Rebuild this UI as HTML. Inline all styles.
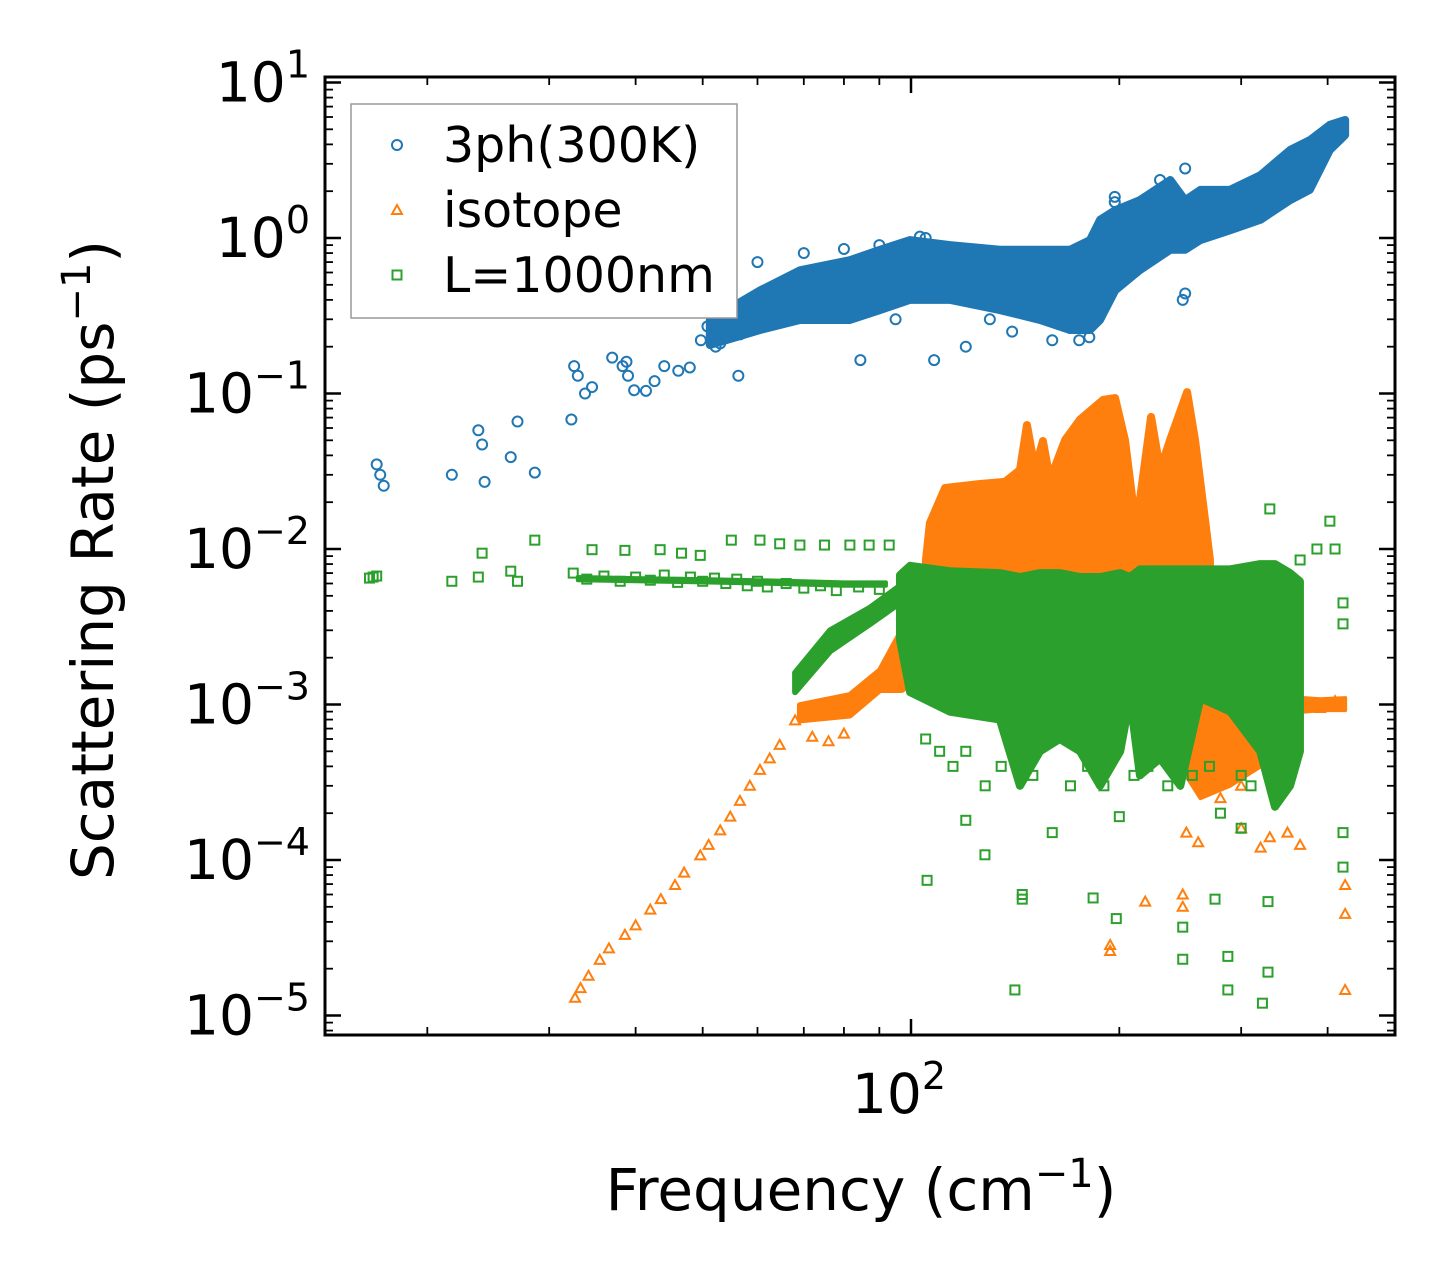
<!DOCTYPE html>
<html><head><meta charset="utf-8"><style>
html,body{margin:0;padding:0;background:#fff;}
svg{display:block;font-family:"DejaVu Sans","Liberation Sans",sans-serif;}
</style></head><body>
<svg id="chart" width="1455" height="1285" viewBox="0 0 1455 1285" xmlns="http://www.w3.org/2000/svg">
<rect width="1455" height="1285" fill="#fff"/>
<g id="marks"></g>
<g id="axes"></g>
<text transform="translate(113,560) rotate(-90)" text-anchor="middle" font-size="58">Scattering Rate (ps<tspan dy="-23" font-size="40">−1</tspan><tspan dy="23">)</tspan></text>
<text x="861" y="1210" text-anchor="middle" font-size="58">Frequency (cm<tspan dy="-23" font-size="40">−1</tspan><tspan dy="23">)</tspan></text>
<g>
<rect x="351" y="104" width="386" height="214" fill="#fff" stroke="#999" stroke-width="1.5"/>
<circle cx="397" cy="145" r="5" fill="none" stroke="#1f77b4" stroke-width="2"/>
<text x="443" y="162" font-size="49">3ph(300K)</text>
<path d="M397,205 L402,214 L392,214 Z" fill="none" stroke="#ff7f0e" stroke-width="2"/>
<text x="443" y="227" font-size="49">isotope</text>
<rect x="392.5" y="270.5" width="9" height="9" fill="none" stroke="#2ca02c" stroke-width="2"/>
<text x="443" y="292" font-size="49">L=1000nm</text>
</g>
</svg>
<script>
// ---- data ----
const phFreq=[16.9,17.1,17.3,21.7,23.7,24.0,24.2,26.4,27.0,28.6,32.3,32.6,33.0,33.8,34.6,37.0,38.3,38.8,39.0,39.8,41.4,42.6,44.0,46.1,47.9,49.7,50.8,52.2,53.0,56.3,56.6,84.5,108,105,103,181,247,249,197,197,249,229,215,120,140,160,75,65,95,130,175,60,70,80,90];
const phRate=[0.035,0.030,0.0255,0.030,0.058,0.047,0.027,0.039,0.066,0.031,0.068,0.15,0.13,0.10,0.11,0.17,0.15,0.16,0.13,0.105,0.104,0.12,0.15,0.14,0.147,0.22,0.27,0.20,0.21,0.13,0.24,0.164,0.164,1.0,1.02,0.23,0.40,0.44,1.84,1.70,2.8,2.36,0.70,0.20,0.25,0.22,0.55,0.45,0.30,0.30,0.22,0.7,0.8,0.85,0.9];
const phBandFreq=[51.2,60.5,69.1,81.6,90.2,99.7,113.8,134.4,153.6,169.8,181.4,187.6,197.3,214,237,249,262,289,320,353,377,403,424];
const phBandHi=[0.297,0.46,0.62,0.72,0.84,0.97,0.90,0.84,0.84,0.84,0.97,1.31,1.51,1.75,2.36,1.75,2.04,2.04,2.54,3.68,4.26,5.34,5.74];
const phBandLo=[0.205,0.256,0.297,0.297,0.344,0.40,0.40,0.344,0.297,0.256,0.256,0.297,0.46,0.62,0.84,0.84,0.97,1.12,1.31,1.75,2.04,3.68,4.59];

const isoFreq=[32.7,33.3,34.2,35.5,36.6,38.6,40.0,42.0,43.5,45.6,47.0,49.6,51.0,53.0,54.8,56.6,58.5,60.5,62.5,64.6,68.0,72,76,80,194,194,218,247,247,424,424,424,365,300,330,375,390,410,250,260,280,300,320,350];
const isoRate=[1.3e-5,1.5e-5,1.8e-5,2.28e-5,2.7e-5,3.3e-5,3.8e-5,4.8e-5,5.6e-5,6.9e-5,8.3e-5,1.07e-4,1.25e-4,1.55e-4,1.9e-4,2.4e-4,3.0e-4,3.8e-4,4.5e-4,5.5e-4,7.9e-4,6.2e-4,5.8e-4,6.5e-4,2.84e-5,2.6e-5,5.4e-5,5.0e-5,6.0e-5,6.9e-5,4.5e-5,1.46e-5,1.25e-4,1.6e-4,1.4e-4,1.0e-3,9.5e-4,1.05e-3,1.5e-4,1.3e-4,2.5e-4,3.0e-4,1.2e-4,1.5e-4];
const isoDiagFreq=[69.1,81.6,90.2,97,103];
const isoDiagHi=[0.00099,0.00115,0.00166,0.003,0.0047];
const isoDiagLo=[0.00079,0.00085,0.00124,0.00124,0.0015];
const isoMainFreq=[105.1,106.5,112,125.8,136.7,143.7,147.1,151.1,155.1,158.8,167,175.5,189.5,197.2,203.8,210.7,214.2,222.3,229.1,236.8,250.6,257.3,266,270.4];
const isoMainHi=[0.0085,0.0147,0.0247,0.0262,0.027,0.0322,0.0627,0.0322,0.0495,0.0278,0.0502,0.068,0.091,0.0935,0.0502,0.0154,0.0207,0.0707,0.0322,0.0502,0.102,0.0502,0.0154,0.0085];
const isoMainLo=[0.0055,0.0055,0.0055,0.0055,0.0055,0.0055,0.0055,0.0055,0.0055,0.0055,0.0055,0.0055,0.0055,0.0055,0.0055,0.0055,0.0055,0.0055,0.0055,0.0055,0.0055,0.0055,0.0055,0.0055];
const isoLowFreq=[245,262,289,320,353];
const isoLowHi=[0.0012,0.0011,0.0012,0.0012,0.0011];
const isoLowLo=[0.0004,0.00025,0.0003,0.0004,0.0005];
const isoTailFreq=[370,390,424];
const isoTailHi=[0.00110,0.00108,0.00110];
const isoTailLo=[0.00090,0.00092,0.00092];

const bdFreq=[16.5,16.7,16.9,21.7,23.7,24.0,26.4,27.0,28.6,34.6,38.6,43.4,46.6,49.6,55.0,60.5,64.6,69.1,75.0,81.6,87.0,93.0,141.3,105.5,127.9,144.8,144.8,183.3,198,247,247,275,287,287,322,328,328,421,421,421,421,403,330,365,386,410,120,160,200,300,280,
32.5,34,36,38,40,42,44,46,48,50,52,54,56,58,60,62,66,70,74,78,84,90,
105,110,115,120,128,135,150,170,180,190,210,220,235,255,270,300,310,340,345,360];
const bdRate=[0.0065,0.0066,0.0067,0.0062,0.0066,0.0094,0.0072,0.0062,0.0114,0.0099,0.0098,0.0099,0.0094,0.0091,0.0114,0.0114,0.0108,0.0106,0.0106,0.0106,0.0106,0.0106,1.46e-5,7.4e-5,1.08e-4,6.0e-5,5.6e-5,5.7e-5,4.2e-5,3.7e-5,2.3e-5,5.6e-5,2.4e-5,1.46e-5,1.2e-5,5.4e-5,1.9e-5,1.5e-4,9.0e-5,0.0045,0.0033,0.0151,0.0181,0.0085,0.010,0.010,1.8e-4,1.5e-4,1.9e-4,1.6e-4,2.0e-4,
0.0070,0.0064,0.0067,0.0062,0.0066,0.0063,0.0068,0.0061,0.0066,0.0062,0.0065,0.0060,0.0064,0.0058,0.0062,0.0057,0.0060,0.0056,0.0058,0.0054,0.0057,0.0055,
0.0006,0.0005,0.0004,0.0005,0.0003,0.0004,0.00035,0.0003,0.0004,0.0003,0.00035,0.0004,0.0003,0.00035,0.0004,0.00035,0.0003,0.0004,0.0013,0.0009];
const bdFlatFreq=[33,40,50,60,70,80,92];
const bdFlatHi=[0.0066,0.0065,0.0064,0.0063,0.0062,0.0061,0.0061];
const bdFlatLo=[0.0063,0.0062,0.0061,0.0060,0.0059,0.0058,0.0058];
const bdBranchFreq=[68,76.4,87.3,96.4];
const bdBranchHi=[0.0016,0.0030,0.0042,0.0058];
const bdBranchLo=[0.0012,0.0022,0.0033,0.0045];
const bdMainFreq=[96.4,99.7,113.8,134.4,143.7,153.6,164,175.5,187.6,200.6,207.3,214.2,229.1,245,262,289.3,319.6,335.7,353,364.8];
const bdMainHi=[0.0068,0.0078,0.0072,0.0070,0.0066,0.0070,0.0070,0.0066,0.0066,0.0070,0.0066,0.0074,0.0074,0.0074,0.0074,0.0074,0.0080,0.0080,0.0070,0.0062];
const bdMainLo=[0.0026,0.0012,0.0009,0.0008,0.0003,0.0005,0.0006,0.0005,0.0003,0.0005,0.0011,0.00035,0.00045,0.0003,0.0011,0.0009,0.0005,0.00022,0.0003,0.0005];

const yTickExp=[1,0,-1,-2,-3,-4,-5];
const yTickLabels=["1","0","−1","−2","−3","−4","−5"];

// ---- axes ----
const L=325,R=1395,T=77,B=1035;
const X0=911,XD=692;
const Y0=82.5,YD=155.5;
function xs(f){return X0+(Math.log10(f)-2)*XD;}
function ys(r){return Y0+(1-Math.log10(r))*YD;}
const NS='http://www.w3.org/2000/svg';
const marks=document.getElementById('marks');
const axes=document.getElementById('axes');
function mk(tag,attrs,parent){const e=document.createElementNS(NS,tag);for(const k in attrs)e.setAttribute(k,attrs[k]);parent.appendChild(e);return e;}

const COLORS={ph:'#1f77b4',iso:'#ff7f0e',bd:'#2ca02c'};
function band(fr,hi,lo,color,name,sw){
  let pts=[];
  for(let i=0;i<fr.length;i++)pts.push(xs(fr[i])+','+ys(hi[i]));
  for(let i=fr.length-1;i>=0;i--)pts.push(xs(fr[i])+','+ys(lo[i]));
  const p=mk('polygon',{points:pts.join(' '),fill:color,stroke:color,'stroke-width':sw,'stroke-linejoin':'round'},marks);
  
  
}
function marker(kind,f,r,color){
  const x=xs(f),y=ys(r);let e;
  if(kind==='c')e=mk('circle',{cx:x,cy:y,r:5,fill:'none',stroke:color,'stroke-width':2},marks);
  else if(kind==='t')e=mk('path',{d:`M${x},${y-5} L${x+5},${y+4} L${x-5},${y+4} Z`,fill:'none',stroke:color,'stroke-width':2},marks);
  else e=mk('rect',{x:x-4.5,y:y-4.5,width:9,height:9,fill:'none',stroke:color,'stroke-width':2},marks);
  
  
}
// blue
band(phBandFreq,phBandHi,phBandLo,COLORS.ph,'3ph-dense-cloud',8);
for(let i=0;i<phFreq.length;i++)marker('c',phFreq[i],phRate[i],COLORS.ph);
// orange
band(isoDiagFreq,isoDiagHi,isoDiagLo,COLORS.iso,'isotope-branch-cloud',6);
band(isoMainFreq,isoMainHi,isoMainLo,COLORS.iso,'isotope-dense-cloud',8);
band(isoLowFreq,isoLowHi,isoLowLo,COLORS.iso,'isotope-low-cloud',4);
band(isoTailFreq,isoTailHi,isoTailLo,COLORS.iso,'isotope-tail-cloud',4);
for(let i=0;i<isoFreq.length;i++)marker('t',isoFreq[i],isoRate[i],COLORS.iso);
// green
band(bdFlatFreq,bdFlatHi,bdFlatLo,COLORS.bd,'boundary-flat-cloud',4);
band(bdBranchFreq,bdBranchHi,bdBranchLo,COLORS.bd,'boundary-branch-cloud',6);
band(bdMainFreq,bdMainHi,bdMainLo,COLORS.bd,'boundary-dense-cloud',8);
for(let i=0;i<bdFreq.length;i++)marker('s',bdFreq[i],bdRate[i],COLORS.bd);

// frame
const fr=mk('rect',{x:L,y:T,width:R-L,height:B-T,fill:'none',stroke:'#000','stroke-width':3},axes);


function tick(x1,y1,x2,y2,w){const t=mk('line',{x1,y1,x2,y2,stroke:'#000','stroke-width':w},axes);

}
// y ticks
for(let k=0;k<yTickExp.length;k++){
  const e=yTickExp[k];const y=ys(Math.pow(10,e));
  tick(L,y,L+16,y,2.5);tick(R,y,R-16,y,2.5);
  const t=mk('text',{x:310,y:y+19,'text-anchor':'end','font-size':55},axes);
  
  
  t.innerHTML='10<tspan dy="-24" font-size="38">'+yTickLabels[k]+'</tspan>';
}
for(let e=-6;e<=1;e++)for(let m=2;m<=9;m++){
  const y=ys(m*Math.pow(10,e));if(y<T||y>B)continue;
  tick(L,y,L+8,y,1.8);tick(R,y,R-8,y,1.8);
}
// x ticks
{const x=xs(100);tick(x,B,x,B-16,2.5);tick(x,T,x,T+16,2.5);
 const t=mk('text',{x:x-12,y:1113,'text-anchor':'middle','font-size':55},axes);
 
 
 t.innerHTML='10<tspan dy="-24" font-size="38">2</tspan>';}
for(let d=10;d<=100;d*=10)for(let m=1;m<=9;m++){
  const f=m*d;if(f===100)continue;const x=xs(f);if(x<L||x>R)continue;
  tick(x,B,x,B-8,1.8);tick(x,T,x,T+8,1.8);
}
</script>
</body></html>
